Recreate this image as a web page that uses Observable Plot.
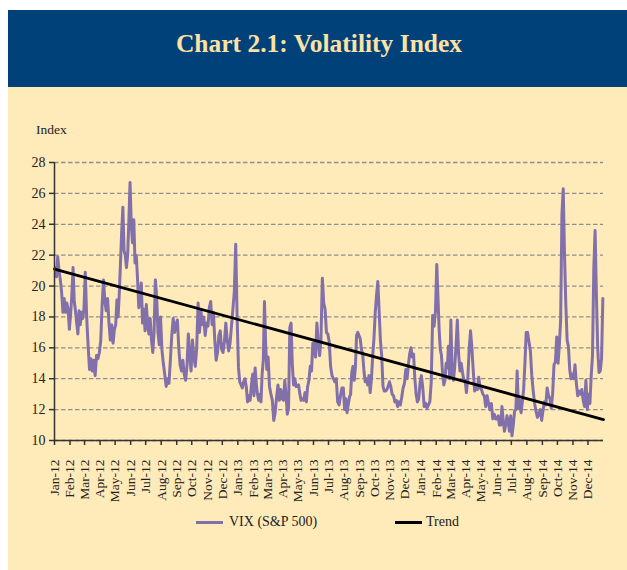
<!DOCTYPE html>
<html>
<head>
<meta charset="utf-8">
<script src="https://cdn.jsdelivr.net/npm/d3@7"></script>
<script src="https://cdn.jsdelivr.net/npm/@observablehq/plot@0.6"></script>
<style>
  html, body { margin: 0; padding: 0; background: #fff; }
  body { width: 627px; height: 570px; position: relative; overflow: hidden; font-family: "Liberation Serif", serif; }
  #panel { position: absolute; left: 8px; top: 87px; width: 619px; height: 483px; background: #FFEAB9; }
  #header { position: absolute; left: 8px; top: 10px; width: 619px; height: 77px; background: #01417A; }
  #title { position: absolute; left: 8px; top: 29px; width: 622px; text-align: center; color: #FCE2A4; font-size: 25.5px; font-weight: bold; font-family: "Liberation Serif", serif; }
  #ylabel { position: absolute; left: 36px; top: 122px; font-size: 13.5px; color: #222; }
  #chart { position: absolute; left: 0; top: 120px; }
  .leg { position: absolute; top: 513px; font-size: 14px; color: #222; line-height: 18px; }
  .sw { position: absolute; top: 521px; height: 3px; width: 27px; }
</style>
</head>
<body>
<div id="panel"></div>
<div id="header"></div>
<div id="title">Chart 2.1: Volatility Index</div>
<div id="ylabel">Index</div>
<div id="chart"></div>
<div class="sw" style="left:196px;background:#8270AA"></div>
<div class="leg" style="left:229px">VIX (S&amp;P 500)</div>
<div class="sw" style="left:395px;background:#000"></div>
<div class="leg" style="left:426px">Trend</div>
<script>
// Month tick labels
const monthLabels = ["Jan-12","Feb-12","Mar-12","Apr-12","May-12","Jun-12","Jul-12","Aug-12","Sep-12","Oct-12","Nov-12","Dec-12",
  "Jan-13","Feb-13","Mar-13","Apr-13","May-13","Jun-13","Jul-13","Aug-13","Sep-13","Oct-13","Nov-13","Dec-13",
  "Jan-14","Feb-14","Mar-14","Apr-14","May-14","Jun-14","Jul-14","Aug-14","Sep-14","Oct-14","Nov-14","Dec-14"];
const yTicks = [10, 12, 14, 16, 18, 20, 22, 24, 26, 28];

// VIX readings, per month (values spread across each month in order)
const vix2012 = [
  [21.2, 20.6, 21.9, 21.0, 20.4, 19.6, 18.3, 19.2, 18.3, 18.9, 18.5, 17.2],
  [18.2, 19.4, 21.2, 19.0, 18.4, 17.6, 16.9, 18.4, 17.5, 18.3, 17.9, 18.5],
  [20.9, 18.0, 16.2, 14.6, 15.3, 14.5, 15.2, 14.2, 15.5, 15.3, 15.7],
  [16.5, 18.8, 20.4, 19.0, 18.4, 19.2, 17.6, 16.5, 17.5, 16.3, 17.2],
  [17.5, 19.1, 18.0, 19.5, 21.5, 23.5, 25.1, 22.3, 22.0, 21.2, 22.0, 24.2, 26.7],
  [24.0, 22.8, 24.3, 21.5, 22.0, 20.5, 18.6, 19.3, 20.2, 17.6, 18.5, 17.1],
  [18.8, 17.5, 16.9, 17.9, 16.5, 15.7, 17.0, 20.4, 19.3, 17.0, 16.2, 18.0],
  [15.9, 15.0, 14.3, 13.5, 14.0, 13.7, 15.2, 16.8, 17.9, 17.0, 17.5],
  [17.8, 16.0, 14.9, 14.5, 15.2, 14.3, 13.9, 14.8, 16.9, 15.5, 14.5],
  [16.5, 15.4, 14.8, 16.0, 18.9, 17.0, 18.4, 17.5, 18.0, 16.8, 17.6],
  [17.4, 18.6, 19.0, 17.5, 18.3, 16.5, 15.2, 15.7, 16.8, 17.1, 15.9],
  [15.7, 16.4, 17.6, 16.5, 15.8, 16.3, 17.4, 18.5, 19.6, 22.7, 18.0]
];
const vix2013 = [
  [14.7, 13.8, 13.6, 13.4, 13.8, 14.0, 13.5, 12.5, 12.9, 12.6, 13.6, 14.3],
  [12.9, 14.7, 13.7, 13.0, 12.6, 13.0, 12.5, 14.3, 15.2, 19.0, 16.3, 14.6],
  [15.4, 13.5, 13.0, 12.6, 11.3, 11.8, 12.8, 13.6, 12.6, 13.3, 12.7],
  [12.6, 13.9, 12.9, 11.7, 12.1, 17.3, 17.6, 14.9, 13.6, 14.0, 13.5, 13.5],
  [13.6, 13.0, 12.6, 12.7, 12.6, 13.1, 12.5, 13.5, 13.9, 14.8, 14.5, 16.3],
  [16.3, 15.4, 17.6, 16.3, 15.5, 16.6, 20.5, 18.9, 18.5, 17.0, 16.9],
  [16.4, 14.8, 14.2, 14.0, 13.8, 14.0, 12.5, 12.3, 12.9, 13.4, 13.4],
  [12.0, 12.7, 11.8, 12.3, 12.8, 13.0, 14.4, 14.8, 13.9, 14.7, 16.8, 17.0, 16.8],
  [16.6, 15.9, 15.6, 14.5, 13.8, 14.0, 13.6, 14.2, 13.1, 14.0, 15.5, 16.6],
  [18.3, 19.4, 20.3, 18.4, 16.5, 15.5, 13.5, 13.2, 13.2, 13.3, 13.5, 13.8],
  [13.5, 13.0, 12.9, 12.5, 12.6, 12.2, 12.5, 12.3, 12.8, 13.4, 13.7],
  [14.6, 14.0, 14.9, 15.6, 16.0, 15.4, 15.6, 14.0, 13.0, 12.5, 12.7, 13.7]
];
const vix2014 = [
  [14.2, 13.4, 12.2, 12.4, 12.1, 12.3, 12.5, 13.8, 18.1, 17.4, 18.4],
  [21.4, 19.3, 17.2, 15.9, 15.5, 14.3, 13.6, 13.9, 15.0, 14.7, 16.1, 14.0],
  [17.8, 14.3, 13.9, 14.8, 16.2, 17.8, 15.6, 14.5, 15.0, 14.4, 13.9, 13.9],
  [13.1, 14.0, 15.9, 17.1, 16.0, 14.5, 13.2, 13.5, 13.3, 14.1, 13.4],
  [13.3, 13.0, 12.9, 12.2, 12.9, 12.4, 12.0, 12.4, 11.4, 11.7, 11.4],
  [11.4, 11.6, 11.0, 11.0, 12.2, 11.3, 10.6, 11.0, 11.6, 11.2, 10.6, 11.6],
  [10.3, 11.0, 11.9, 12.0, 14.5, 12.1, 12.6, 11.8, 12.5, 13.3, 15.0, 17.0],
  [17.0, 16.4, 15.8, 14.2, 13.2, 12.4, 11.9, 11.5, 11.7, 12.0, 11.3],
  [12.0, 12.5, 12.3, 13.4, 12.9, 12.7, 12.1, 13.0, 14.9, 15.1, 16.7],
  [15.0, 16.2, 17.8, 24.7, 26.3, 22.0, 18.8, 16.5, 16.1, 14.6, 14.0, 14.3],
  [14.0, 14.9, 13.7, 12.9, 13.2, 13.0, 13.3, 12.6, 12.2, 13.9, 12.0],
  [13.0, 12.4, 14.2, 15.5, 21.1, 23.6, 19.5, 16.0, 14.4, 14.5, 15.3, 19.2]
];

// Linear trend end points
const trendDates = ["2012-01-01", "2015-01-01"];
const trendValues = [21.1, 11.35];

// Build table
const vixData = [];
[[2012, vix2012], [2013, vix2013], [2014, vix2014]].forEach(([yr, months]) => {
  months.forEach((vals, m) => {
    const s = Date.UTC(yr, m, 1), e = Date.UTC(yr, m + 1, 1);
    vals.forEach((v, i) => vixData.push({date: new Date(s + (i + 0.5) / vals.length * (e - s)), value: v}));
  });
});
const trend = trendDates.map((d, i) => ({date: new Date(d), value: trendValues[i]}));
const monthTicks = monthLabels.map((_, i) => new Date(Date.UTC(2012, i, 1)));
const labelOf = d => monthLabels[(d.getUTCFullYear() - 2012) * 12 + d.getUTCMonth()];

const start = new Date(Date.UTC(2012, 0, 1)), end = new Date(Date.UTC(2015, 0, 1));

const chart = Plot.plot({
  width: 627,
  height: 420,
  marginLeft: 54,
  marginRight: 24,
  marginTop: 42,
  marginBottom: 100,
  style: {background: "transparent", fontFamily: "Liberation Serif, serif", fontSize: "13px", color: "#222", overflow: "visible"},
  x: {type: "utc", domain: [start, end]},
  y: {domain: [10, 28]},
  marks: [
    Plot.gridY(yTicks, {stroke: "#8f8f8f", strokeOpacity: 1, strokeDasharray: "4.5,2.5", strokeWidth: 1.3}),
    Plot.axisY(yTicks, {tickSize: 5, tickPadding: 4, fontSize: 14, label: null, stroke: "#333", strokeWidth: 1.5}),
    Plot.axisX(monthTicks, {tickSize: 5, tickRotate: -90, tickPadding: 14, tickFormat: labelOf, label: null, textAnchor: "end", fontSize: 13.5, stroke: "#333", strokeWidth: 1.5}),
    Plot.line(vixData, {x: "date", y: "value", stroke: "#8270AA", strokeWidth: 3, strokeLinejoin: "round"}),
    Plot.line(trend, {x: "date", y: "value", stroke: "#000", strokeWidth: 2.8}),
    Plot.ruleX([start], {stroke: "#333", strokeWidth: 1.5}),
    Plot.ruleY([10], {stroke: "#333", strokeWidth: 1.5})
  ]
});
document.getElementById("chart").appendChild(chart);
</script>
</body>
</html>
